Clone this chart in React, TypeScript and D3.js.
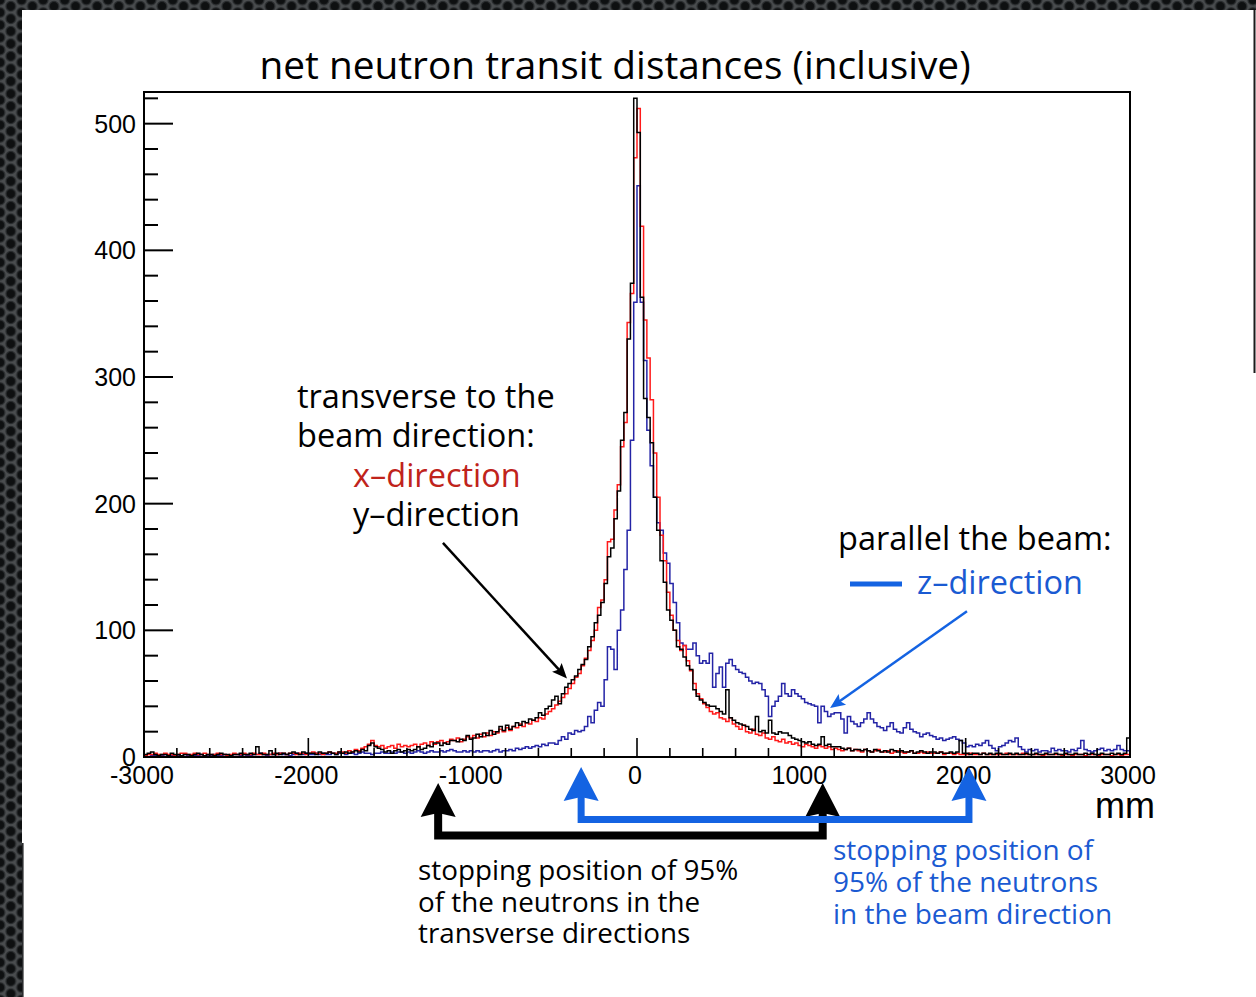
import React from 'react';
import * as d3 from 'd3';

// Histogram binning (mm): 300 bins of 20 mm from -3000 to 3000
const BIN_START = -3000;
const BIN_END = 3000;
const BIN_WIDTH = 20;

// x-direction (red), counts per bin
const xDirection = [
  1, 2, 2, 3, 2, 2, 3, 2, 2, 1,
  2, 3, 3, 2, 2, 3, 2, 2, 3, 2,
  2, 2, 3, 2, 2, 1, 2, 3, 2, 2,
  3, 2, 2, 3, 2, 2, 3, 2, 2, 3,
  2, 3, 3, 2, 3, 3, 2, 3, 3, 2,
  3, 4, 3, 3, 2, 3, 4, 3, 3, 4,
  4, 3, 5, 4, 6, 5, 7, 8, 10, 13,
  9, 8, 9, 7, 8, 9, 7, 10, 8, 9,
  8, 9, 10, 8, 10, 11, 9, 12, 10, 12,
  13, 11, 12, 14, 13, 15, 12, 14, 16, 15,
  17, 15, 18, 16, 19, 17, 20, 19, 22, 20,
  23, 21, 24, 23, 26, 24, 27, 26, 29, 28,
  31, 30, 34, 36, 38, 41, 44, 47, 50, 54,
  58, 63, 66, 72, 78, 84, 92, 100, 118, 124,
  140, 170, 172, 195, 215, 245, 264, 343, 366, 473,
  512, 419, 345, 315, 282, 240, 205, 175, 155, 130,
  112, 100, 92, 84, 88, 76, 68, 58, 50, 46,
  42, 39, 36, 34, 35, 31, 30, 28, 31, 26,
  24, 22, 25, 20, 19, 22, 18, 17, 19, 15,
  14, 16, 13, 12, 14, 11, 12, 10, 11, 9,
  8, 10, 9, 8, 7, 9, 8, 7, 8, 6,
  7, 6, 5, 6, 7, 5, 6, 5, 4, 6,
  5, 4, 5, 6, 4, 4, 5, 3, 4, 5,
  4, 3, 4, 5, 3, 3, 4, 3, 4, 3,
  3, 3, 4, 2, 3, 3, 2, 3, 2, 2,
  2, 3, 2, 2, 2, 3, 2, 2, 2, 2,
  2, 2, 3, 2, 2, 2, 2, 3, 2, 2,
  2, 2, 2, 1, 2, 2, 2, 2, 2, 1,
  2, 2, 1, 2, 2, 2, 1, 2, 2, 2,
  1, 2, 2, 2, 1, 2, 2, 1, 2, 2,
];

// y-direction (black), counts per bin
const yDirection = [
  2, 3, 4, 2, 1, 2, 2, 1, 3, 2,
  2, 1, 2, 2, 1, 2, 3, 2, 1, 2,
  2, 1, 2, 3, 2, 2, 1, 2, 2, 3,
  2, 2, 3, 2, 8, 3, 2, 2, 5, 2,
  3, 2, 3, 2, 3, 4, 3, 2, 4, 3,
  3, 3, 2, 4, 3, 3, 4, 3, 2, 4,
  3, 4, 3, 4, 5, 4, 6, 5, 9, 11,
  8, 7, 6, 4, 5, 3, 5, 6, 4, 5,
  6, 5, 6, 8, 6, 7, 9, 8, 11, 11,
  9, 11, 10, 13, 13, 12, 14, 13, 17, 14,
  15, 18, 16, 19, 17, 21, 18, 20, 24, 21,
  25, 22, 24, 27, 25, 28, 27, 30, 29, 31,
  35, 33, 38, 40, 45, 48, 42, 50, 55, 58,
  61, 64, 69, 73, 77, 87, 95, 106, 112, 122,
  137, 158, 165, 188, 210, 250, 272, 330, 374, 520,
  493, 363, 283, 268, 248, 205, 179, 155, 138, 116,
  108, 100, 87, 85, 79, 72, 69, 53, 48, 45,
  43, 41, 40, 40, 38, 36, 34, 53, 31, 29,
  27, 26, 25, 24, 22, 21, 32, 20, 21, 19,
  29, 19, 18, 20, 19, 19, 17, 15, 14, 13,
  12, 11, 12, 10, 9, 10, 16, 9, 10, 8,
  8, 8, 7, 6, 7, 5, 6, 6, 5, 6,
  5, 4, 6, 5, 4, 5, 4, 6, 5, 4,
  5, 4, 4, 5, 3, 4, 5, 4, 3, 4,
  4, 3, 4, 3, 3, 4, 3, 4, 13, 3,
  3, 2, 3, 3, 2, 3, 2, 3, 2, 3,
  3, 2, 2, 3, 2, 3, 2, 2, 3, 2,
  2, 3, 2, 2, 3, 2, 2, 3, 2, 2,
  3, 2, 2, 3, 2, 2, 3, 2, 3, 2,
  2, 3, 2, 2, 3, 2, 3, 2, 3, 15,
];

// z-direction (blue, along the beam), counts per bin
const zDirection = [
  1, 0, 1, 1, 0, 1, 2, 1, 1, 0,
  1, 1, 2, 1, 0, 1, 1, 2, 1, 1,
  1, 2, 1, 1, 2, 1, 1, 2, 2, 1,
  2, 1, 1, 2, 2, 3, 2, 1, 2, 2,
  2, 3, 2, 2, 1, 2, 3, 2, 2, 3,
  2, 2, 3, 2, 3, 2, 2, 3, 2, 3,
  3, 2, 3, 3, 2, 3, 4, 3, 3, 2,
  3, 3, 4, 3, 3, 4, 3, 4, 4, 3,
  4, 3, 4, 5, 4, 3, 4, 5, 4, 4,
  5, 4, 5, 6, 5, 4, 4, 5, 4, 5,
  4, 5, 4, 5, 5, 4, 5, 6, 4, 5,
  5, 6, 5, 7, 6, 7, 8, 7, 8, 9,
  8, 10, 9, 11, 11, 10, 13, 16, 14, 19,
  18, 21, 20, 21, 24, 32, 27, 37, 43, 40,
  61, 87, 85, 69, 100, 116, 148, 179, 250, 359,
  451, 359, 313, 258, 230, 205, 185, 179, 161, 153,
  137, 122, 106, 90, 88, 85, 85, 90, 80, 74,
  76, 74, 82, 55, 66, 71, 55, 74, 77, 72,
  69, 67, 66, 63, 60, 58, 59, 58, 53, 48,
  32, 40, 44, 48, 58, 50, 48, 53, 50, 48,
  46, 43, 42, 41, 40, 27, 40, 36, 32, 34,
  35, 35, 30, 19, 32, 28, 26, 24, 27, 30,
  35, 30, 27, 24, 23, 21, 24, 27, 22, 20,
  19, 23, 27, 22, 20, 19, 16, 18, 19, 17,
  16, 14, 15, 13, 14, 15, 16, 14, 13, 11,
  8, 9, 8, 10, 9, 11, 13, 9, 7, 5,
  8, 9, 11, 13, 12, 15, 8, 6, 4, 6,
  5, 6, 4, 5, 5, 4, 7, 5, 6, 5,
  5, 4, 6, 5, 7, 13, 6, 5, 4, 5,
  6, 7, 5, 6, 5, 6, 9, 6, 5, 5,
];

const xMajorTicks = [-3000, -2000, -1000, 0, 1000, 2000, 3000];
const yMajorTicks = [0, 100, 200, 300, 400, 500];

// 95% stopping positions (mm)
const transverseStops = [-1210, 1130];
const beamStops = [-340, 2020];

const W = 1256;
const H = 997;
const SANS = "'Open Sans', 'Noto Sans', sans-serif";
const HELV = "'Liberation Sans', Arial, sans-serif";

const BLACK = '#000000';
const RED_HIST = '#ff1a1a';
const BLUE_HIST = '#2424a6';
const RED_TEXT = '#c0231b';
const BLUE_MARK = '#1463e2';
const BLUE_TEXT = '#1a5ad2';

type Pt = [number, number];

function arrowHead(from: Pt, tip: Pt, len: number, half: number, notch = 0): string {
  const dx = tip[0] - from[0];
  const dy = tip[1] - from[1];
  const d = Math.hypot(dx, dy);
  const ux = dx / d;
  const uy = dy / d;
  const bx = tip[0] - ux * len;
  const by = tip[1] - uy * len;
  const nx = -uy;
  const ny = ux;
  const p1: Pt = [bx + nx * half, by + ny * half];
  const p2: Pt = [bx - nx * half, by - ny * half];
  const mid: Pt = [bx + ux * notch, by + uy * notch];
  return `M${tip[0]},${tip[1]}L${p1[0]},${p1[1]}L${mid[0]},${mid[1]}L${p2[0]},${p2[1]}Z`;
}

export default function App() {
  const left = 144;
  const right = 1130;
  const top = 92;
  const bottom = 757;

  const x = d3.scaleLinear().domain([BIN_START, BIN_END]).range([left, right]);
  const y = d3.scaleLinear().domain([0, 525]).range([bottom, top]);

  const stepPath = (counts: number[]) => {
    const pts: Pt[] = counts.map((c, i) => [BIN_START + i * BIN_WIDTH, c]);
    pts.push([BIN_END, counts[counts.length - 1]]);
    return (
      d3
        .line<Pt>()
        .x((d) => x(d[0]))
        .y((d) => y(d[1]))
        .curve(d3.curveStepAfter)(pts) ?? ''
    );
  };

  const xMinor = d3.range(-3000, 3001, 200).filter((v) => v % 1000 !== 0);
  const yMinor = d3.range(0, 525, 20).filter((v) => v % 100 !== 0);

  // pointer arrows into the histogram
  const yTail: Pt = [x(-1181), y(169)];
  const yTip: Pt = [x(-426), y(62)];
  const zTail: Pt = [x(2008), y(115)];
  const zTip: Pt = [x(1175), y(38.7)];

  // bracket geometry below the axis
  const blackBarY = 835.5;
  const blackTipY = 783;
  const blueBarY = 819.5;
  const blueTipY = 767;
  const headLen = 34;
  const headHalf = 17.5;

  const bracket = (stops: number[], tipY: number, barY: number, color: string, width: number) => {
    const xs = stops.map((s) => x(s));
    return (
      <g>
        <path
          d={`M${xs[0]},${tipY + headLen - 2}L${xs[0]},${barY}L${xs[1]},${barY}L${xs[1]},${tipY + headLen - 2}`}
          fill="none"
          stroke={color}
          strokeWidth={width}
          strokeLinejoin="miter"
          strokeLinecap="square"
        />
        {xs.map((cx, i) => (
          <path
            key={i}
            d={arrowHead([cx, tipY + 100], [cx, tipY], headLen, headHalf, 4)}
            fill={color}
          />
        ))}
      </g>
    );
  };

  return (
    <div style={{ position: 'absolute', left: 0, top: 0 }}>
      <svg width={W} height={H} viewBox={`0 0 ${W} ${H}`} style={{ display: 'block' }}>
        <defs>
          <pattern id="mesh" width="21.6" height="12.5" patternUnits="userSpaceOnUse">
            <rect width="21.6" height="12.5" fill="#4a4d4f" />
            {[
              [0, 0],
              [0, 12.5],
              [21.6, 0],
              [21.6, 12.5],
              [10.8, 6.25],
            ].map(([cx, cy], i) => (
              <circle key={i} cx={cx} cy={cy} r={4.9} fill="#0e1011" stroke="#2a2d2f" strokeWidth={1.2} />
            ))}
          </pattern>
          <clipPath id="frame">
            <rect x={left} y={top} width={right - left} height={bottom - top} />
          </clipPath>
        </defs>

        {/* page backdrop and slide */}
        <rect x={0} y={0} width={W} height={H} fill="url(#mesh)" />
        <rect x={22} y={10} width={W - 22} height={H - 10} fill="#ffffff" />
        <rect x={22} y={843} width={1.6} height={H - 843} fill="#2b2d2f" />
        <rect x={1253.5} y={10} width={2} height={363} fill="#1c1c1c" />

        {/* title */}
        <text x={615} y={79} textAnchor="middle" fontFamily={SANS} fontSize={38.8} fill="#000">
          net neutron transit distances (inclusive)
        </text>

        {/* histograms */}
        <g clipPath="url(#frame)" fill="none" strokeWidth={1.5} strokeLinejoin="miter">
          <path d={stepPath(zDirection)} stroke={BLUE_HIST} />
          <path d={stepPath(xDirection)} stroke={RED_HIST} />
          <path d={stepPath(yDirection)} stroke={BLACK} />
        </g>

        {/* frame */}
        <rect
          x={left}
          y={top}
          width={right - left}
          height={bottom - top}
          fill="none"
          stroke="#000"
          strokeWidth={2}
        />

        {/* y axis ticks */}
        <g stroke="#000" strokeWidth={2}>
          {yMajorTicks.map((v) => (
            <line key={`ym${v}`} x1={left} x2={left + 29} y1={y(v)} y2={y(v)} />
          ))}
          {yMinor.map((v) => (
            <line key={`yn${v}`} x1={left} x2={left + 14} y1={y(v)} y2={y(v)} />
          ))}
        </g>
        <g fontFamily={HELV} fontSize={25} fill="#000" textAnchor="end">
          {yMajorTicks.map((v) => (
            <text key={`yl${v}`} x={left - 8} y={y(v) + 9}>
              {v}
            </text>
          ))}
        </g>

        {/* x axis ticks */}
        <g stroke="#000" strokeWidth={1.6}>
          {xMajorTicks.map((v) => (
            <line key={`xm${v}`} x1={x(v)} x2={x(v)} y1={bottom} y2={bottom - 19} />
          ))}
          {xMinor.map((v) => (
            <line key={`xn${v}`} x1={x(v)} x2={x(v)} y1={bottom} y2={bottom - 9} />
          ))}
        </g>
        <g fontFamily={HELV} fontSize={25} fill="#000" textAnchor="middle">
          {xMajorTicks.map((v) => (
            <text key={`xl${v}`} x={x(v) - 2} y={784}>
              {v}
            </text>
          ))}
        </g>
        <text x={1155} y={818} textAnchor="end" fontFamily={HELV} fontSize={36} fill="#000">
          mm
        </text>

        {/* transverse annotation */}
        <g fontFamily={SANS} fontSize={32.5}>
          <text x={297} y={408} fill="#000">transverse to the</text>
          <text x={297} y={447} fill="#000">beam direction:</text>
          <text x={353} y={487} fill={RED_TEXT}>x–direction</text>
          <text x={353} y={526} fill="#000">y–direction</text>
        </g>
        <line x1={yTail[0]} y1={yTail[1]} x2={yTip[0] - 6} y2={yTip[1] - 6.5} stroke="#000" strokeWidth={2.5} />
        <path d={arrowHead(yTail, yTip, 15, 6.5, 3)} fill="#000" />

        {/* beam annotation */}
        <g fontFamily={SANS} fontSize={32.5}>
          <text x={838} y={550} fill="#000">parallel the beam:</text>
          <text x={917} y={594} fill={BLUE_TEXT}>z–direction</text>
        </g>
        <line x1={850} x2={902} y1={584} y2={584} stroke={BLUE_MARK} strokeWidth={5} />
        <line x1={zTail[0]} y1={zTail[1]} x2={zTip[0] + 7} y2={zTip[1] - 5} stroke={BLUE_MARK} strokeWidth={2.5} />
        <path d={arrowHead(zTail, zTip, 15, 6.5, 3)} fill={BLUE_MARK} />

        {/* 95% stopping brackets */}
        {bracket(transverseStops, blackTipY, blackBarY, '#000', 8)}
        {bracket(beamStops, blueTipY, blueBarY, BLUE_MARK, 7)}

        <g fontFamily={SANS} fontSize={27.8} fill="#000">
          <text x={418} y={880}>stopping position of 95%</text>
          <text x={418} y={912}>of the neutrons in the</text>
          <text x={418} y={943}>transverse directions</text>
        </g>
        <g fontFamily={SANS} fontSize={28} fill={BLUE_TEXT}>
          <text x={833} y={860}>stopping position of</text>
          <text x={833} y={892}>95% of the neutrons</text>
          <text x={833} y={924}>in the beam direction</text>
        </g>
      </svg>
    </div>
  );
}
